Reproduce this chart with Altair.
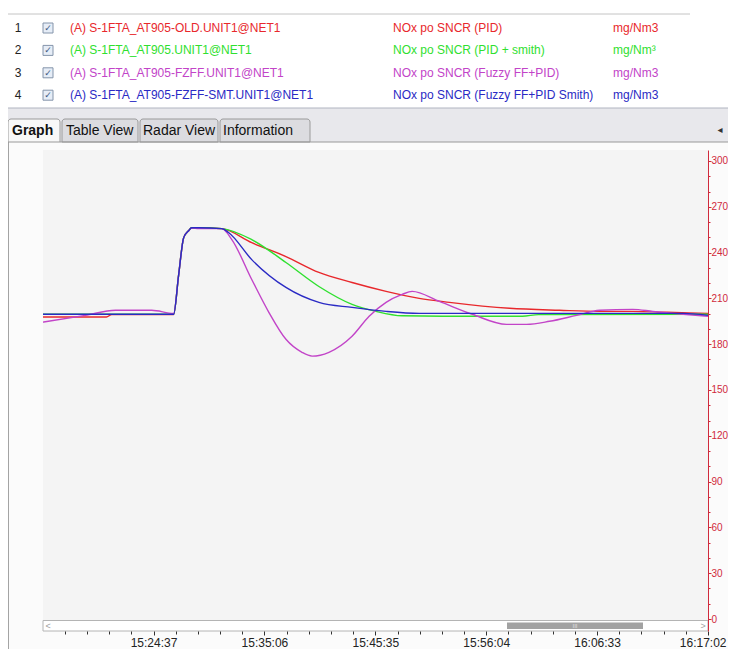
import altair as alt
import pandas as pd
from datetime import datetime, timedelta

# ---------------- data ----------------
series_names = ["PID", "PID + smith", "Fuzzy FF+PID", "Fuzzy FF+PID Smith"]
row_numbers = [1, 2, 3, 4]
tags = ["(A) S-1FTA_AT905-OLD.UNIT1@NET1", "(A) S-1FTA_AT905.UNIT1@NET1",
        "(A) S-1FTA_AT905-FZFF.UNIT1@NET1", "(A) S-1FTA_AT905-FZFF-SMT.UNIT1@NET1"]
descs = ["NOx po SNCR (PID)", "NOx po SNCR (PID + smith)",
         "NOx po SNCR (Fuzzy FF+PID)", "NOx po SNCR (Fuzzy FF+PID Smith)"]
units = ["mg/Nm3", "mg/Nm³", "mg/Nm3", "mg/Nm3"]
tabs = ["Graph", "Table View", "Radar View", "Information"]
y_tick_values = list(range(0, 301, 10))
x_major_labels = ["15:24:37", "15:35:06", "15:45:35", "15:56:04", "16:06:33", "16:17:02"]

red_t = ["15:14:00", "15:20:10", "15:20:40", "15:26:31", "15:26:59", "15:27:28", "15:27:56",
         "15:28:13", "15:28:53", "15:31:04", "15:33:54", "15:37:08", "15:40:15", "15:43:23",
         "15:46:36", "15:49:44", "15:52:35", "15:58:16", "16:03:00", "16:06:48", "16:09:55",
         "16:13:09", "16:17:02"]
red_v = [197.8, 197.8, 199.4, 199.4, 225.0, 249.8, 254.3, 256.3, 256.3, 255.7, 246.5, 237.4,
         227.0, 220.4, 214.6, 210.0, 207.4, 203.5, 202.2, 201.5, 201.5, 200.9, 200.2]

green_t = ["15:14:00", "15:26:31", "15:26:59", "15:27:28", "15:27:56", "15:28:13", "15:28:53",
           "15:31:04", "15:33:54", "15:37:08", "15:40:15", "15:43:23", "15:45:39", "15:48:07",
           "15:52:00", "15:59:30", "16:01:00", "16:17:02"]
green_v = [199.6, 199.6, 225.0, 249.8, 254.3, 256.3, 256.3, 255.7, 248.5, 233.5, 217.8, 206.1,
           201.5, 198.6, 198.3, 198.3, 199.4, 199.6]

mag_t = ["15:14:00", "15:18:10", "15:21:01", "15:24:26", "15:26:31", "15:26:59", "15:27:28",
         "15:27:56", "15:28:13", "15:28:53", "15:31:04", "15:32:01", "15:33:54", "15:35:31",
         "15:37:08", "15:38:39", "15:39:36", "15:41:12", "15:43:23", "15:45:00", "15:46:36",
         "15:48:07", "15:49:04", "15:51:38", "15:54:45", "15:57:59", "15:59:53", "16:02:03",
         "16:04:37", "16:06:48", "16:09:55", "16:11:49", "16:14:40", "16:17:02"]
mag_v = [194.3, 198.9, 202.2, 202.2, 200.2, 225.0, 249.8, 254.3, 256.0, 255.7, 255.7, 248.5,
         222.4, 200.9, 183.2, 174.7, 172.2, 174.7, 185.2, 198.3, 207.4, 212.6, 214.6, 208.0,
         199.6, 193.0, 193.0, 195.0, 198.9, 202.2, 202.8, 201.5, 199.6, 198.3]

blue_t = ["15:14:00", "15:26:31", "15:26:59", "15:27:28", "15:27:56", "15:28:13", "15:28:53",
          "15:31:04", "15:31:44", "15:33:54", "15:37:08", "15:40:15", "15:43:23", "15:46:36",
          "15:49:44", "16:14:40", "16:17:02"]
blue_v = [199.6, 199.6, 225.0, 249.8, 254.3, 256.3, 256.3, 255.7, 253.0, 235.4, 217.2, 207.4,
          204.1, 201.5, 200.2, 200.2, 198.9]

# ---------------- styles / layout ----------------
line_colors = ["#e8282c", "#2fe02f", "#c244c8", "#2a2ac4"]
AX_RED = "#d02a3c"
FONT = "Liberation Sans"
W, H = 665, 481          # plot view (incl. scrollbar strip)
PLOT_BOTTOM = 470        # bottom of grey plot area, top of scrollbar

records = []
for name, ts, vs in zip(series_names, [red_t, green_t, mag_t, blue_t],
                        [red_v, green_v, mag_v, blue_v]):
    for t, v in zip(ts, vs):
        records.append({"series": name, "time": "2020-01-01T" + t, "value": v})
df = pd.DataFrame(records)

hdr = pd.DataFrame({"row": row_numbers, "tag": tags, "desc": descs, "unit": units,
                    "series": series_names})


def dt(h, m, s, ms=0):
    return alt.DateTime(year=2020, month=1, date=1, hours=h, minutes=m, seconds=s,
                        milliseconds=ms)


t0 = datetime(2020, 1, 1, 15, 24, 37)
x_tick_vals = []
for k in range(-4, 26):
    t = t0 + timedelta(milliseconds=k * 125800)
    x_tick_vals.append(dt(t.hour, t.minute, t.second, t.microsecond // 1000))

major_test = "(datum.value - datetime(2020,0,1,15,24,37)) % 629000 == 0"
x_axis = alt.Axis(orient="bottom", values=x_tick_vals, domain=False, grid=False, title=None,
                  labelExpr=major_test + " ? timeFormat(datum.value, '%H:%M:%S') : ''",
                  tickSize={"condition": {"test": major_test, "value": 4}, "value": 3},
                  tickColor="#333333", labelColor="#222222", labelFont=FONT,
                  labelFontSize=12, labelPadding=2, labelOverlap=False,
                  labelFlush=True, labelFlushOffset=18, zindex=2)
y_axis = alt.Axis(orient="right", values=y_tick_values, domain=True, domainColor=AX_RED,
                  grid=False, title=None,
                  labelExpr="datum.value % 30 == 0 ? datum.label : ''",
                  tickSize={"condition": {"test": "datum.value % 30 == 0", "value": 3},
                            "value": 2},
                  tickColor=AX_RED, labelColor=AX_RED, labelFont=FONT, labelFontSize=10,
                  labelPadding=0, labelOverlap=False, labelFlush=False, zindex=2)

xenc = alt.X("time:T", scale=alt.Scale(domain=[dt(15, 14, 10), dt(16, 17, 2)]), axis=x_axis)
yenc = alt.Y("value:Q", scale=alt.Scale(domain=[-7.86, 307.2], nice=False, zero=False),
             axis=y_axis)
cenc = alt.Color("series:N", scale=alt.Scale(domain=series_names, range=line_colors),
                 legend=None)

one = pd.DataFrame({"k": [0]})


def vrect(x0, x1, y0, y1, **kw):
    return alt.Chart(one).mark_rect(**kw).encode(
        x=alt.value(x0), x2=alt.value(x1), y=alt.value(y0), y2=alt.value(y1))


def hrule(x0, x1, y, color):
    return alt.Chart(one).mark_rule(color=color, strokeWidth=1).encode(
        x=alt.value(x0), x2=alt.value(x1), y=alt.value(y))


def vrule(x, y0, y1, color):
    return alt.Chart(one).mark_rule(color=color, strokeWidth=1).encode(
        x=alt.value(x), y=alt.value(y0), y2=alt.value(y1))


def vtext(x, y, txt, **kw):
    return alt.Chart(one).mark_text(**kw).encode(
        x=alt.value(x), y=alt.value(y), text=alt.value(txt))


layers = []
# panel + plot backgrounds
layers.append(vrect(-35, 685, -8, 507, fill="#fbfbfb"))
layers.append(vrule(-34.5, -8, 507, "#a4a4a4"))
layers.append(vrect(0, W, 0, PLOT_BOTTOM, fill="#f4f4f4"))

# lines
for name in series_names:
    layers.append(
        alt.Chart(df).transform_filter(alt.datum.series == name)
        .mark_line(strokeWidth=1.4, interpolate="monotone", clip=True)
        .encode(x=xenc, y=yenc, color=cenc)
    )

# scrollbar
layers.append(vrect(0, W, PLOT_BOTTOM + 0.5, H, fill="#ffffff", stroke="#b4b4b4",
                    strokeWidth=1))
layers.append(vrect(464, 600, PLOT_BOTTOM + 2.5, H - 2, fill="#a2a2a2"))
layers.append(vtext(532, PLOT_BOTTOM + 6, "III", fontSize=6, color="#e0e0e0", font=FONT))
layers.append(vtext(5, PLOT_BOTTOM + 6, "<", fontSize=9, color="#a0a0a0", font=FONT))
layers.append(vtext(660, PLOT_BOTTOM + 6, ">", fontSize=9, color="#a0a0a0", font=FONT))

# table header area
layers.append(hrule(-35, 647, -136, "#c4c4c4"))
layers.append(vrect(-35, 685, -42, -8, fill="#e8e8ec"))
layers.append(hrule(-35, 685, -42, "#b0b4c0"))

tab_x0 = [-35, 19, 97, 177]
tab_x1 = [17, 95, 175, 267]
tab_tx = [-31, 23, 100, 180]
for i, (name, a, b, tx) in enumerate(zip(tabs, tab_x0, tab_x1, tab_tx)):
    layers.append(vrect(a, b, -31, -8, fill="#f8f8f8" if i == 0 else "#dcdce0",
                        stroke="#9a9a9a", strokeWidth=1, cornerRadiusTopLeft=3,
                        cornerRadiusTopRight=3))
    layers.append(vtext(tx, -19, name, align="left", baseline="middle", font=FONT,
                        fontSize=14, fontWeight="bold" if i == 0 else "normal",
                        color="#111111"))
layers.append(hrule(17, 685, -8, "#9a9a9a"))
layers.append(vtext(677, -20, "◂", fontSize=10, color="#333333", font="DejaVu Sans"))

# table rows
row_y = [-122, -99.6, -77.2, -54.8]
for r, yy in zip(row_numbers, row_y):
    rb = alt.Chart(hdr).transform_filter(alt.datum.row == r)
    layers.append(rb.mark_text(align="center", baseline="middle", font=FONT, fontSize=12,
                               color="#222222")
                  .encode(x=alt.value(-25), y=alt.value(yy), text="row:N"))
    layers.append(rb.mark_square(size=100, fill="#e6edf7", stroke="#8494aa", strokeWidth=1,
                                 opacity=1)
                  .encode(x=alt.value(5), y=alt.value(yy)))
    layers.append(rb.mark_text(align="center", baseline="middle", font="DejaVu Sans",
                               fontSize=9, fontWeight="bold", color="#40587e")
                  .encode(x=alt.value(5), y=alt.value(yy), text=alt.value("✓")))
    for field, xpos in [("tag", 27), ("desc", 350), ("unit", 570)]:
        layers.append(rb.mark_text(align="left", baseline="middle", font=FONT, fontSize=12)
                      .encode(x=alt.value(xpos), y=alt.value(yy), text=f"{field}:N",
                              color=cenc))

chart = alt.layer(*layers).properties(
    width=W, height=H,
    autosize=alt.AutoSizeParams(type="none"),
    padding={"left": 35, "top": 142, "right": 20, "bottom": 18},
    background="#ffffff",
).configure_view(strokeWidth=0)

chart.save("out.html", embed_options={"renderer": "svg", "actions": False})
